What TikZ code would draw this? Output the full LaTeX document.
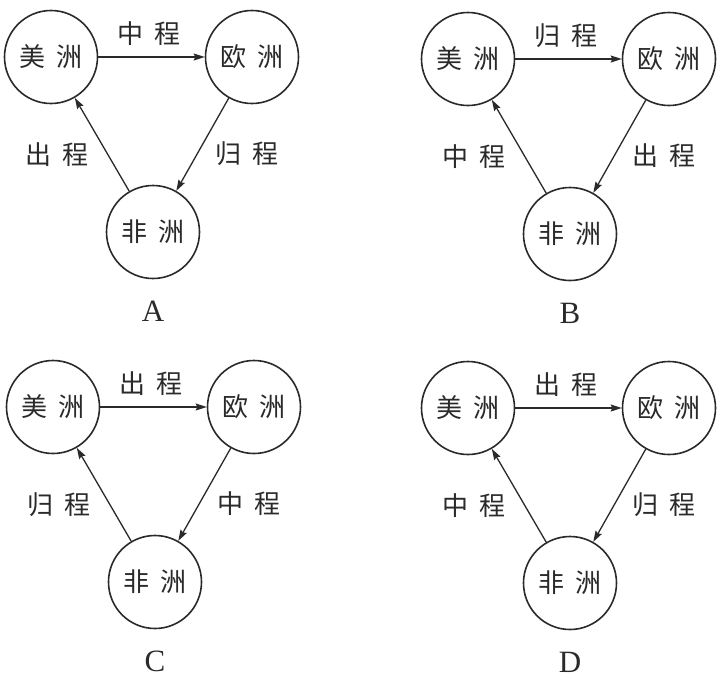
\documentclass[tikz,border=0pt]{standalone}
\usepackage{fontspec}
\setmainfont{Liberation Serif}
\newfontfamily\cjk{Noto Sans CJK SC}
\usetikzlibrary{arrows.meta}
\definecolor{ink}{HTML}{2A2A2A}
\tikzset{
  place/.style={circle,draw=ink,line width=1.6pt,minimum size=93pt,inner sep=0pt,
    text=ink,font=\cjk\fontsize{26}{26}\selectfont},
  flow/.style={draw=ink,line width=1.3pt,-{Stealth[length=11pt,width=7pt,inset=1.5pt]}},
  lab/.style={text=ink,font=\cjk\fontsize{26}{26}\selectfont},
  letterlab/.style={text=ink,font=\fontsize{31}{31}\selectfont},
}
\newcommand\drawpanel[7]{%
  \begin{scope}[shift={(#2,#3)}]
    \node[place] (#1am) at (0,0) {美\hspace{0.4em}洲};
    \node[place] (#1eu) at (201,0) {欧\hspace{0.4em}洲};
    \node[place] (#1af) at (102,175) {非\hspace{0.4em}洲};
    \draw[flow] (#1am) -- (#1eu);
    \draw[flow] (#1eu) -- (#1af);
    \draw[flow] (#1af) -- (#1am);
    \node[lab] (#1top) at (98,-23) {#4};
    \node[lab] (#1left) at (6,98) {#5};
    \node[lab] (#1right) at (196,97) {#6};
    \node[letterlab] (#1let) at (102,254) {#7};
  \end{scope}}
\begin{document}
\begin{tikzpicture}[x=1pt,y=-1pt]
  \useasboundingbox[fill=white] (0,0) rectangle (723,681);
  \drawpanel{A}{51}{57}{中\hspace{0.4em}程}{出\hspace{0.4em}程}{归\hspace{0.4em}程}{A}
  \drawpanel{B}{468}{59}{归\hspace{0.4em}程}{中\hspace{0.4em}程}{出\hspace{0.4em}程}{B}
  \drawpanel{C}{53}{407}{出\hspace{0.4em}程}{归\hspace{0.4em}程}{中\hspace{0.4em}程}{C}
  \drawpanel{D}{468}{408}{出\hspace{0.4em}程}{中\hspace{0.4em}程}{归\hspace{0.4em}程}{D}
\end{tikzpicture}
\end{document}
